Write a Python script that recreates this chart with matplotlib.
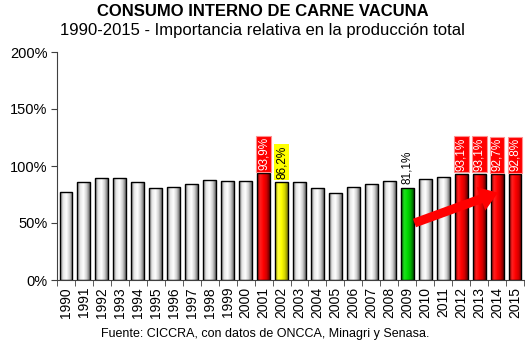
import numpy as np
import matplotlib.pyplot as plt
from matplotlib.colors import LinearSegmentedColormap
from matplotlib.patches import FancyArrowPatch

plt.rcParams['font.family'] = ['Liberation Sans', 'DejaVu Sans']

years = [str(y) for y in range(1990, 2016)]
consumo = [77.5, 86.0, 89.2, 89.8, 86.3, 80.4, 81.9, 83.9, 88.0, 87.1,
           87.1, 93.9, 86.2, 86.3, 80.7, 76.3, 81.9, 83.9, 86.8, 81.1,
           88.6, 90.1, 93.1, 93.1, 92.7, 92.8]
# color group per year: g = grey, r = red, y = yellow, v = green
grupo = ['g'] * 11 + ['r', 'y'] + ['g'] * 6 + ['v', 'g', 'g', 'r', 'r', 'r', 'r']
etiquetas = {2001: '93,9%', 2002: '86,2%', 2009: '81,1%',
             2012: '93,1%', 2013: '93,1%', 2014: '92,7%', 2015: '92,8%'}

gradientes = {
    'g': ['#7a7a7a', '#e8e8e8', '#ffffff', '#d0d0d0', '#6a6a6a'],
    'r': ['#8a0000', '#ff2020', '#ff0000', '#d00000', '#600000'],
    'y': ['#a0a000', '#ffff40', '#ffff00', '#d8d800', '#808000'],
    'v': ['#006000', '#20e020', '#00dd00', '#00b000', '#005000'],
}
cmaps = {k: LinearSegmentedColormap.from_list(k, v) for k, v in gradientes.items()}

fig = plt.figure(figsize=(5.25, 3.44), dpi=100)
ax = fig.add_axes([57 / 525, 1 - 280 / 344, 467 / 525, 228 / 344])

x = np.arange(len(years))
ancho = 0.72
barras = ax.bar(x, consumo, width=ancho, facecolor='none', edgecolor='black',
                linewidth=1.0, zorder=3)
grad = np.linspace(0, 1, 64).reshape(1, -1)
for xi, v, g, b in zip(x, consumo, grupo, barras):
    im = ax.imshow(grad, cmap=cmaps[g], aspect='auto', zorder=2,
                   extent=(xi - ancho / 2, xi + ancho / 2, 0, v))
    im.set_clip_path(b)

for xi, v, g in zip(x, consumo, grupo):
    anio = 1990 + xi
    if anio not in etiquetas:
        continue
    txt = etiquetas[anio]
    if g == 'r':
        ax.text(xi, v + 2.5, txt, rotation=90, ha='center', va='bottom', fontsize=8.5,
                color='white', zorder=4,
                bbox=dict(boxstyle='square,pad=0.12', fc='#ff0000', ec='#ff9090', lw=0.8))
    elif g == 'y':
        ax.text(xi, v + 2.5, txt, rotation=90, ha='center', va='bottom', fontsize=8.5,
                color='black', zorder=4,
                bbox=dict(boxstyle='square,pad=0.12', fc='#ffff00', ec='none'))
    else:
        ax.text(xi, v + 3, txt, rotation=90, ha='center', va='bottom', fontsize=8.5,
                color='black', zorder=4)

# trend arrow
ax.add_patch(FancyArrowPatch((19.4, 50.0), (24.05, 76.6),
                             arrowstyle='simple,head_length=1.3,head_width=1.8,tail_width=0.65',
                             mutation_scale=10, color='#ff0000', lw=0, zorder=5,
                             shrinkA=0, shrinkB=0))

ax.set_xlim(-0.5, len(years) - 0.5)
ax.set_ylim(0, 200)
ax.set_yticks([0, 50, 100, 150, 200])
ax.set_yticklabels(['0%', '50%', '100%', '150%', '200%'], fontsize=10.5)
ax.set_xticks(x)
ax.set_xticklabels(years, rotation=90, fontsize=10)
ax.set_xticks(np.arange(-0.5, len(years)), minor=True)
ax.tick_params(axis='x', which='major', length=0, pad=5)
ax.tick_params(axis='x', which='minor', length=4, direction='out', color='#404040')
ax.tick_params(axis='y', length=4, direction='out', color='#404040', pad=3)
for s in ['top', 'right']:
    ax.spines[s].set_visible(False)
ax.spines['left'].set_color('#404040')
ax.spines['bottom'].set_color('#404040')

fig.text(0.5, 1 - 11 / 344, 'CONSUMO INTERNO DE CARNE VACUNA', ha='center', va='center',
         fontsize=12, fontweight='bold')
fig.text(0.5, 1 - 31 / 344, '1990-2015 - Importancia relativa en la producción total',
         ha='center', va='center', fontsize=12)
fig.text(265 / 525, 1 - 334 / 344, 'Fuente: CICCRA, con datos de ONCCA, Minagri y Senasa.',
         ha='center', va='center', fontsize=9)

fig.savefig('out.png', dpi=100)
